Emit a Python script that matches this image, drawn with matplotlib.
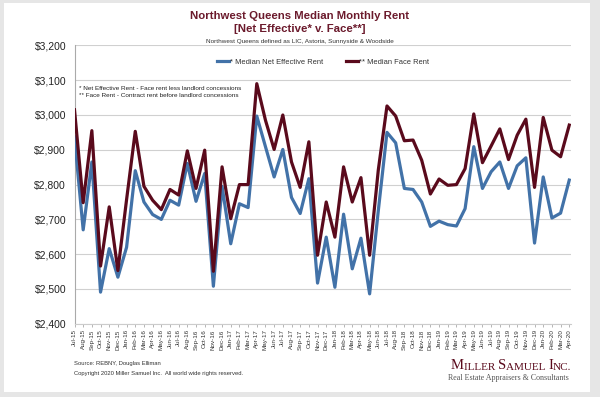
import matplotlib
matplotlib.use("Agg")
import matplotlib.pyplot as plt
from matplotlib.patches import Rectangle
from matplotlib.text import Annotation

plt.rcParams["font.family"] = ["Liberation Sans", "DejaVu Sans"]

months = ["Jul-15","Aug-15","Sep-15","Oct-15","Nov-15","Dec-15",
          "Jan-16","Feb-16","Mar-16","Apr-16","May-16","Jun-16","Jul-16","Aug-16","Sep-16","Oct-16","Nov-16","Dec-16",
          "Jan-17","Feb-17","Mar-17","Apr-17","May-17","Jun-17","Jul-17","Aug-17","Sep-17","Oct-17","Nov-17","Dec-17",
          "Jan-18","Feb-18","Mar-18","Apr-18","May-18","Jun-18","Jul-18","Aug-18","Sep-18","Oct-18","Nov-18","Dec-18",
          "Jan-19","Feb-19","Mar-19","Apr-19","May-19","Jun-19","Jul-19","Aug-19","Sep-19","Oct-19","Nov-19","Dec-19",
          "Jan-20","Feb-20","Mar-20","Apr-20"]

net_effective = [2937, 2670, 2865, 2491, 2616, 2534,
                 2620, 2840, 2750, 2714, 2700, 2755, 2741, 2861, 2752, 2832, 2508, 2795,
                 2630, 2745, 2734, 2997, 2909, 2822, 2901, 2763, 2717, 2817, 2517, 2649,
                 2505, 2715, 2558, 2646, 2486, 2725, 2950, 2920, 2789, 2786, 2750, 2680,
                 2695, 2685, 2681, 2731, 2909, 2789, 2837, 2865, 2789, 2854, 2877, 2632,
                 2822, 2704, 2718, 2813]

face = [3015, 2748, 2955, 2566, 2736, 2553,
        2757, 2953, 2795, 2755, 2728, 2786, 2770, 2897, 2789, 2899, 2551, 2851,
        2702, 2800, 2800, 3090, 2985, 2901, 3000, 2865, 2792, 2923, 2597, 2750,
        2649, 2851, 2750, 2820, 2597, 2842, 3026, 2997, 2926, 2928, 2870, 2773,
        2816, 2798, 2800, 2846, 3003, 2863, 2911, 2960, 2872, 2942, 2988, 2792,
        2993, 2899, 2880, 2971]

y_ticks = [2400, 2500, 2600, 2700, 2800, 2900, 3000, 3100, 3200]

BLUE = "#4272a8"
RED = "#5a0a1c"
TITLE = "#6b1a2c"
SERIF = ["Liberation Serif", "DejaVu Serif"]

W, H = 600, 397
fig = plt.figure(figsize=(6, 3.97), dpi=100)
fig.patch.set_facecolor("#e6e6e6")
fig.add_artist(Rectangle((4 / W, 5 / H), (590 - 4) / W, (394 - 5) / H,
                         transform=fig.transFigure, facecolor="white",
                         edgecolor="none", zorder=0))

ax = fig.add_axes([74.5 / W, (H - 323.8) / H, (571 - 74.5) / W, (323.8 - 45.4) / H])
ax.set_facecolor("none")
x = list(range(len(months)))
ax.plot(x, net_effective, color=BLUE, lw=2.3, label="* Median Net Effective Rent", zorder=3)
ax.plot(x, face, color=RED, lw=2.3, label="** Median Face Rent", zorder=4)

ax.set_ylim(2400, 3200)
ax.set_xlim(0, 57.2)
ax.set_yticks(y_ticks)
ax.set_yticklabels([f"${v:,}" for v in y_ticks], fontsize=7.5, color="#222222")
ax.set_xticks(x)
ax.set_xticklabels(months, rotation=90, fontsize=4.5, color="#333333")
ax.tick_params(axis="x", length=2, width=0.5, color="#999999", pad=2)
ax.tick_params(axis="y", length=0, pad=6)
ax.grid(axis="y", color="#d0d0d0", lw=0.8)
ax.set_axisbelow(True)
for s in ["top", "right"]:
    ax.spines[s].set_visible(False)
ax.spines["left"].set_color("#aaaaaa")
ax.spines["left"].set_linewidth(0.8)
ax.spines["bottom"].set_color("#cccccc")
ax.spines["bottom"].set_linewidth(0.8)

leg = ax.legend(loc="center", bbox_to_anchor=(0.5, (323.8 - 62) / 278.4), ncol=2, frameon=False,
                fontsize=5.4, handlelength=1.6, columnspacing=3.0, handletextpad=0.15)
for t in leg.get_texts():
    t.set_color("#333333")

ax.text(0.01, (323.8 - 88) / 278.4, "* Net Effective Rent - Face rent less landlord concessions",
        transform=ax.transAxes, fontsize=4.6, color="#222222", va="center")
ax.text(0.01, (323.8 - 96) / 278.4, "** Face Rent - Contract rent before landlord concessions",
        transform=ax.transAxes, fontsize=4.6, color="#222222", va="center")

fig.text(0.5, 1 - 16 / H, "Northwest Queens Median Monthly Rent", ha="center", va="center",
         fontsize=8.2, fontweight="bold", color=TITLE)
fig.text(0.5, 1 - 29 / H, "[Net Effective* v. Face**]", ha="center", va="center",
         fontsize=8.2, fontweight="bold", color=TITLE)
fig.text(0.5, 1 - 41 / H, "Northwest Queens defined as LIC, Astoria, Sunnyside & Woodside",
         ha="center", va="center", fontsize=4.6, color="#333333")

fig.text(74 / W, 1 - 364 / H, "Source: REBNY, Douglas Elliman", fontsize=4.2,
         color="#333333", va="center")
fig.text(74 / W, 1 - 373 / H, "Copyright 2020 Miller Samuel Inc.  All world wide rights reserved.",
         fontsize=4.2, color="#333333", va="center")

# Logo set in small caps
pieces = [("M", 10.5), ("ILLER ", 8.0), ("S", 10.5), ("AMUEL ", 8.0), ("I", 10.5), ("NC.", 8.0)]
last = fig.text(451 / W, 1 - 369 / H, pieces[0][0], fontsize=pieces[0][1],
                family=SERIF, color=RED, va="baseline")
for txt, sz in pieces[1:]:
    last = fig.add_artist(Annotation(txt, xy=(1, 0), xycoords=last, va="bottom",
                                     fontsize=sz, family=SERIF, color=RED,
                                     annotation_clip=False))
fig.text(569 / W, 1 - 378 / H, "Real Estate Appraisers & Consultants", ha="right",
         va="center", fontsize=5.8, family=SERIF, color="#555555")

fig.savefig("out.png", dpi=100, facecolor=fig.get_facecolor())
